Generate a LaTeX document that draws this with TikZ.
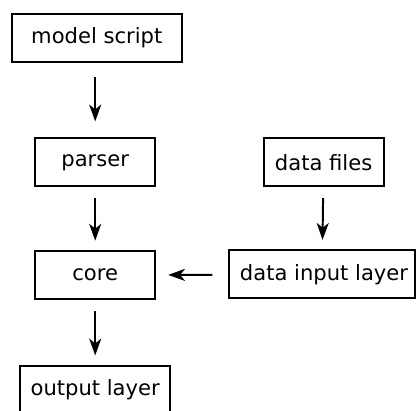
\documentclass[tikz,border=0pt]{standalone}
\usepackage{fontspec}
\setmainfont{DejaVu Sans}
\usetikzlibrary{arrows.meta}

\tikzset{
  layer/.style={draw,line width=1.4pt,minimum height=1.2cm,inner sep=0pt,
    font=\fontsize{15}{18}\selectfont},
  arr/.style={-{Stealth[length=0.42cm,width=0.3cm,inset=0.12cm]},line width=1.4pt,
    shorten <=0.27cm,shorten >=0.24cm}
}

\begin{document}
\begin{tikzpicture}
\useasboundingbox (0,0) rectangle (10.4,-10.25);

\node[layer,minimum width=4.25cm] (model) at (2.42,-0.94) {model script};
\node[layer,minimum width=3cm] (parser) at (2.38,-4.06) {parser};
\node[layer,minimum width=3cm] (core) at (2.38,-6.88) {core};
\node[layer,minimum width=3.75cm] (output) at (2.38,-9.75) {output layer};

\node[layer,minimum width=3cm] (files) at (8.09,-4.06) {data files};
\node[layer,minimum width=4.63cm] (input) at (8.05,-6.86) {\hspace{0.1cm}data input layer};

\draw[arr,shorten <=0.37cm,shorten >=0.4cm] (parser.north |- model.south) -- (parser);
\draw[arr] (parser) -- (core);
\draw[arr] (core) -- (output);
\draw[arr] (files) -- (input);
\draw[arr,shorten <=0.4cm,shorten >=0.3cm] (input) -- (core);

\end{tikzpicture}
\end{document}
